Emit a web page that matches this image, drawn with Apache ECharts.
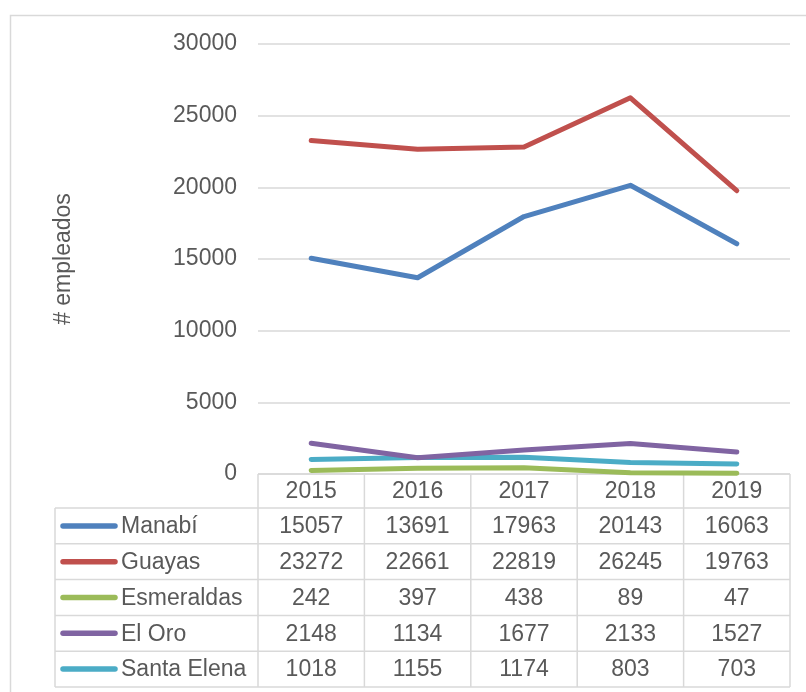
<!DOCTYPE html>
<html lang="es">
<head>
    <meta charset="UTF-8">
    <title>Empleados por provincia</title>
    <script src="https://cdn.jsdelivr.net/npm/echarts@6/dist/echarts.min.js"></script>
    <style>
        html, body { margin: 0; padding: 0; background: #fff; }
        #main { width: 806px; height: 692px; }
    </style>
</head>
<body>
<div id="main"></div>
<script type="text/javascript">
    // datos
    var years = ['2015', '2016', '2017', '2018', '2019'];
    var names = ['Manabí', 'Guayas', 'Esmeraldas', 'El Oro', 'Santa Elena'];
    var colors = ['#4F81BD', '#C0504D', '#9BBB59', '#8064A2', '#4BACC6'];
    var manabi = [15057, 13691, 17963, 20143, 16063];
    var guayas = [23272, 22661, 22819, 26245, 19763];
    var esmeraldas = [242, 397, 438, 89, 47];
    var elOro = [2148, 1134, 1677, 2133, 1527];
    var santaElena = [1018, 1155, 1174, 803, 703];
    var yTicks = [0, 5000, 10000, 15000, 20000, 25000, 30000];

    var values = [manabi, guayas, esmeraldas, elOro, santaElena];
    var font = 'Liberation Sans, Arial, sans-serif';
    var textColor = '#595959';
    var lineColor = '#D9D9D9';

    var gridLeft = 258, gridRight = 790, gridTop = 44, gridBottom = 474;
    var tableLeft = 55, headerBottom = 508, tableBottom = 687;

    var myChart = echarts.init(document.getElementById('main'));

    var series = [];
    for (var i = 0; i < names.length; i++) {
        series.push({
            name: names[i],
            type: 'line',
            data: values[i],
            symbol: 'none',
            smooth: false,
            z: 10 - i,
            lineStyle: { color: colors[i], width: 5, cap: 'round', join: 'round' },
            itemStyle: { color: colors[i] }
        });
    }

    myChart.setOption({
        animation: false,
        grid: {
            left: gridLeft,
            right: 806 - gridRight,
            top: gridTop,
            bottom: 692 - gridBottom
        },
        xAxis: {
            type: 'category',
            data: years,
            boundaryGap: true,
            axisLine: { show: false },
            axisTick: { show: false },
            axisLabel: { show: false }
        },
        yAxis: {
            type: 'value',
            min: yTicks[0],
            max: yTicks[yTicks.length - 1],
            interval: 5000,
            name: '# empleados',
            nameLocation: 'middle',
            nameGap: 183,
            nameTextStyle: { fontFamily: font, fontSize: 23, color: textColor },
            axisLine: { show: false },
            axisTick: { show: false },
            axisLabel: {
                fontFamily: font, fontSize: 23, color: textColor, margin: 21,
                padding: [3, 0, 0, 0],
                formatter: function (v) { return String(v); }
            },
            splitLine: { lineStyle: { color: lineColor, width: 1.5 } }
        },
        series: series
    });

    // tabla de datos dibujada debajo del eje
    var rowH = (tableBottom - headerBottom) / names.length;
    var colW = (gridRight - gridLeft) / years.length;
    var g = [];
    function hline(x1, x2, y) {
        g.push({ type: 'line', shape: { x1: x1, y1: y, x2: x2, y2: y },
            style: { stroke: lineColor, lineWidth: 1.5 }, silent: true });
    }
    function vline(x, y1, y2) {
        g.push({ type: 'line', shape: { x1: x, y1: y1, x2: x, y2: y2 },
            style: { stroke: lineColor, lineWidth: 1.5 }, silent: true });
    }
    function txt(x, y, s, align) {
        g.push({ type: 'text', x: x, y: y, silent: true,
            style: { text: s, fill: textColor, font: '23px ' + font,
                textAlign: align, textVerticalAlign: 'middle' } });
    }

    // borde exterior
    g.push({ type: 'rect', shape: { x: 10.5, y: 15.5, width: 900, height: 900 },
        style: { fill: null, stroke: lineColor, lineWidth: 1.5 }, silent: true });

    hline(gridLeft, gridRight, gridBottom);
    for (var r = 0; r <= names.length; r++) {
        hline(tableLeft, gridRight, headerBottom + r * rowH);
    }
    vline(tableLeft, headerBottom, tableBottom);
    for (var c = 0; c <= years.length; c++) {
        vline(gridLeft + c * colW, gridBottom, tableBottom);
    }
    for (var c = 0; c < years.length; c++) {
        var cx = myChart.convertToPixel({ xAxisIndex: 0 }, c);
        txt(cx, (gridBottom + headerBottom) / 2 + 1, years[c], 'center');
        for (var r = 0; r < names.length; r++) {
            txt(cx, headerBottom + (r + 0.5) * rowH + 1, String(values[r][c]), 'center');
        }
    }
    for (var r = 0; r < names.length; r++) {
        var cy = headerBottom + (r + 0.5) * rowH;
        g.push({ type: 'line', shape: { x1: 63, y1: cy, x2: 115, y2: cy },
            style: { stroke: colors[r], lineWidth: 5.5, lineCap: 'round' }, silent: true });
        txt(121, cy + 1, names[r], 'left');
    }

    myChart.setOption({ graphic: g });
</script>
</body>
</html>
